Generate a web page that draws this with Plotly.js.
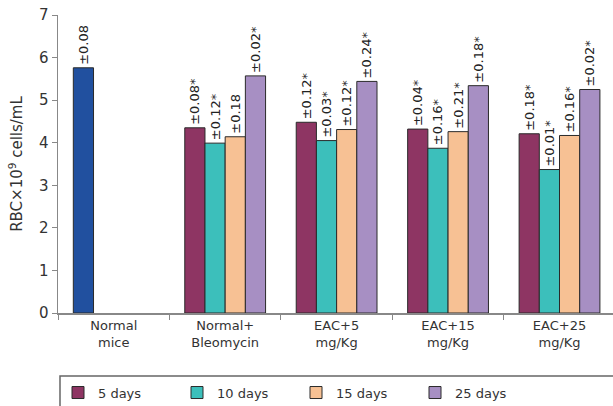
<!DOCTYPE html>
<html>
<head>
<meta charset="utf-8">
<script src="https://cdn.plot.ly/plotly-3.0.1.min.js"></script>
<style>html,body{margin:0;padding:0;background:#fff;}#chart{width:613px;height:406px;}</style>
</head>
<body>
<div id="chart"></div>
<script>
const categories = ['Normal<br>mice', 'Normal+<br>Bleomycin', 'EAC+5<br>mg/Kg', 'EAC+15<br>mg/Kg', 'EAC+25<br>mg/Kg'];
const treatedCategories = ['Normal+<br>Bleomycin', 'EAC+5<br>mg/Kg', 'EAC+15<br>mg/Kg', 'EAC+25<br>mg/Kg'];
const normalMiceValue = [5.76];
const normalMiceSD = ['±0.08'];
const days5 = [4.35, 4.48, 4.32, 4.21];
const days10 = [3.99, 4.05, 3.87, 3.37];
const days15 = [4.14, 4.31, 4.26, 4.17];
const days25 = [5.57, 5.44, 5.34, 5.25];
const sd5 = ['±0.08*', '±0.12*', '±0.04*', '±0.18*'];
const sd10 = ['±0.12*', '±0.03*', '±0.16*', '±0.01*'];
const sd15 = ['±0.18', '±0.12*', '±0.21*', '±0.16*'];
const sd25 = ['±0.02*', '±0.24*', '±0.18*', '±0.02*'];
const seriesNames = ['5 days', '10 days', '15 days', '25 days'];
const yTicks = [0, 1, 2, 3, 4, 5, 6, 7];

const colors = {normal: '#21509F', d5: '#8E3563', d10: '#3CBFBB', d15: '#F7C194', d25: '#A78FC3'};
const outline = {color: '#2a2a2a', width: 1};
const textFont = {family: 'DejaVu Sans', size: 13, color: '#222'};

function barTrace(name, x, y, text, color, group, showlegend) {
  return {
    type: 'bar', name: name, x: x, y: y, text: text,
    textposition: 'outside', textangle: -90, textfont: textFont,
    constraintext: 'none', cliponaxis: false,
    marker: {color: color, line: outline},
    offsetgroup: group, showlegend: showlegend, hoverinfo: 'skip'
  };
}

const data = [
  barTrace('Normal mice', [categories[0]], normalMiceValue, normalMiceSD, colors.normal, 'g1', false),
  barTrace(seriesNames[0], treatedCategories, days5, sd5, colors.d5, 'g1', true),
  barTrace(seriesNames[1], treatedCategories, days10, sd10, colors.d10, 'g2', true),
  barTrace(seriesNames[2], treatedCategories, days15, sd15, colors.d15, 'g3', true),
  barTrace(seriesNames[3], treatedCategories, days25, sd25, colors.d25, 'g4', true)
];

const layout = {
  width: 613, height: 406,
  margin: {l: 58, r: 0, t: 15, b: 93},
  paper_bgcolor: '#fff', plot_bgcolor: '#fff',
  font: {family: 'DejaVu Sans', color: '#333'},
  barmode: 'group', bargap: 0.275, bargroupgap: 0,
  xaxis: {
    type: 'category', categoryorder: 'array', categoryarray: categories,
    range: [-0.5, 4.48],
    showline: true, linecolor: '#888', linewidth: 1.5,
    ticks: 'outside', tickson: 'boundaries', ticklen: 5, tickcolor: '#888',
    tickfont: {size: 13, color: '#333'}, showgrid: false, zeroline: false
  },
  yaxis: {
    range: [0, 7], tickvals: yTicks,
    showline: true, linecolor: '#888', linewidth: 1.5,
    ticks: 'outside', ticklen: 5, tickcolor: '#888',
    tickfont: {size: 15, color: '#333'}, showgrid: false, zeroline: false,
    title: {text: 'RBC×10<sup>9</sup> cells/mL', font: {size: 15, color: '#333'}, standoff: 12}
  },
  legend: {
    orientation: 'h', x: 0.0, xanchor: 'left', xref: 'paper',
    y: 0.07, yanchor: 'top', yref: 'container',
    entrywidth: 74, entrywidthmode: 'pixels', itemwidth: 30,
    font: {size: 13, color: '#333'}, bgcolor: 'rgba(0,0,0,0)', traceorder: 'normal'
  },
  shapes: [{
    type: 'rect', xref: 'paper', yref: 'paper',
    x0: 0.0036, x1: 1.05, y0: -0.211, y1: -0.45,
    line: {color: '#666', width: 1.5}, fillcolor: 'rgba(0,0,0,0)'
  }]
};

Plotly.newPlot('chart', data, layout, {displayModeBar: false, staticPlot: true});
</script>
</body>
</html>
